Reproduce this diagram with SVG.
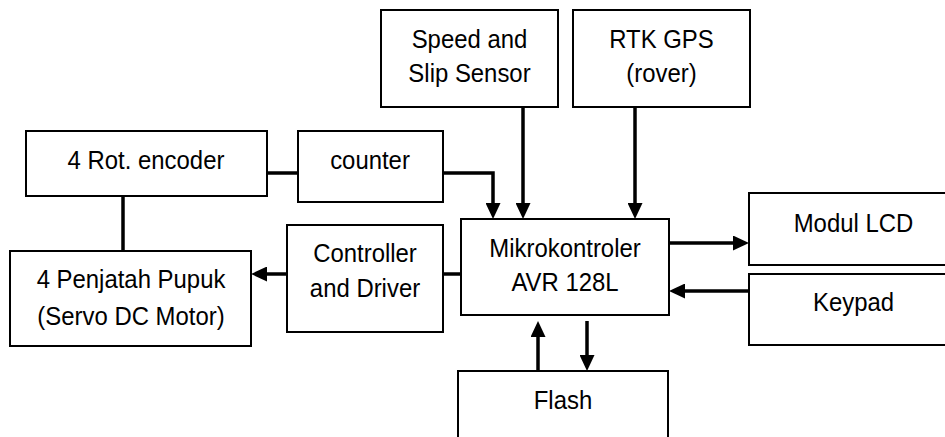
<svg xmlns="http://www.w3.org/2000/svg" width="945" height="437" viewBox="0 0 945 437">
<style>
  .box { fill: #fff; stroke: #000; stroke-width: 2; }
  .t { font-family: "Liberation Sans", Arial, sans-serif; font-size: 26px; fill: #000; text-anchor: middle; }
  .c { fill: none; stroke: #000; stroke-width: 3.5; }
  .a { marker-end: url(#arr); }
</style>
<defs>
  <marker id="arr" markerUnits="userSpaceOnUse" markerWidth="16" markerHeight="15" refX="8" refY="7.5" orient="auto">
    <path d="M0,0 L16,7.5 L0,15 z" fill="#000"/>
  </marker>
</defs>
<rect width="945" height="437" fill="#fff"/>
<g id="connectors">
  <path class="c" d="M267,173 H298"/>
  <path class="c a" d="M443,173 H493 V211"/>
  <path class="c a" d="M523,107 V211"/>
  <path class="c a" d="M635,107 V211"/>
  <path class="c" d="M123,196 V251"/>
  <path class="c" d="M443,274 H461"/>
  <path class="c a" d="M287,274 H259"/>
  <path class="c a" d="M669,243 H741"/>
  <path class="c a" d="M749,291 H677"/>
  <path class="c a" d="M538,371 V329"/>
  <path class="c a" d="M587,321 V363"/>
</g>
<g id="encoder">
  <rect class="box" x="26" y="131" width="241" height="65"/>
  <text class="t" transform="translate(146 169) scale(0.92 1)">4 Rot. encoder</text>
</g>
<g id="counter">
  <rect class="box" x="298" y="131" width="145" height="71"/>
  <text class="t" transform="translate(370 169) scale(0.92 1)">counter</text>
</g>
<g id="penjatah">
  <rect class="box" x="10" y="251" width="241" height="95"/>
  <text class="t" transform="translate(131 288) scale(0.92 1)">4 Penjatah Pupuk</text>
  <text class="t" transform="translate(131 325) scale(0.92 1)">(Servo DC Motor)</text>
</g>
<g id="controller">
  <rect class="box" x="287" y="225" width="156" height="107"/>
  <text class="t" transform="translate(365 262) scale(0.92 1)">Controller</text>
  <text class="t" transform="translate(365 296.5) scale(0.92 1)">and Driver</text>
</g>
<g id="mikro">
  <rect class="box" x="461" y="219" width="208" height="96"/>
  <text class="t" transform="translate(565 256.5) scale(0.92 1)">Mikrokontroler</text>
  <text class="t" transform="translate(565 291) scale(0.92 1)">AVR 128L</text>
</g>
<g id="speed">
  <rect class="box" x="381" y="10" width="177" height="97"/>
  <text class="t" transform="translate(469.5 48) scale(0.92 1)">Speed and</text>
  <text class="t" transform="translate(469.5 82) scale(0.92 1)">Slip Sensor</text>
</g>
<g id="rtk">
  <rect class="box" x="573" y="10" width="177" height="97"/>
  <text class="t" transform="translate(661.5 48) scale(0.92 1)">RTK GPS</text>
  <text class="t" transform="translate(661.5 82) scale(0.92 1)">(rover)</text>
</g>
<g id="lcd">
  <rect class="box" x="749" y="193" width="210" height="72"/>
  <text class="t" transform="translate(853.5 232) scale(0.92 1)">Modul LCD</text>
</g>
<g id="keypad">
  <rect class="box" x="749" y="274" width="210" height="71"/>
  <text class="t" transform="translate(853.5 311) scale(0.92 1)">Keypad</text>
</g>
<g id="flash">
  <rect class="box" x="458" y="371" width="210" height="80"/>
  <text class="t" transform="translate(563 409) scale(0.92 1)">Flash</text>
</g>
</svg>
